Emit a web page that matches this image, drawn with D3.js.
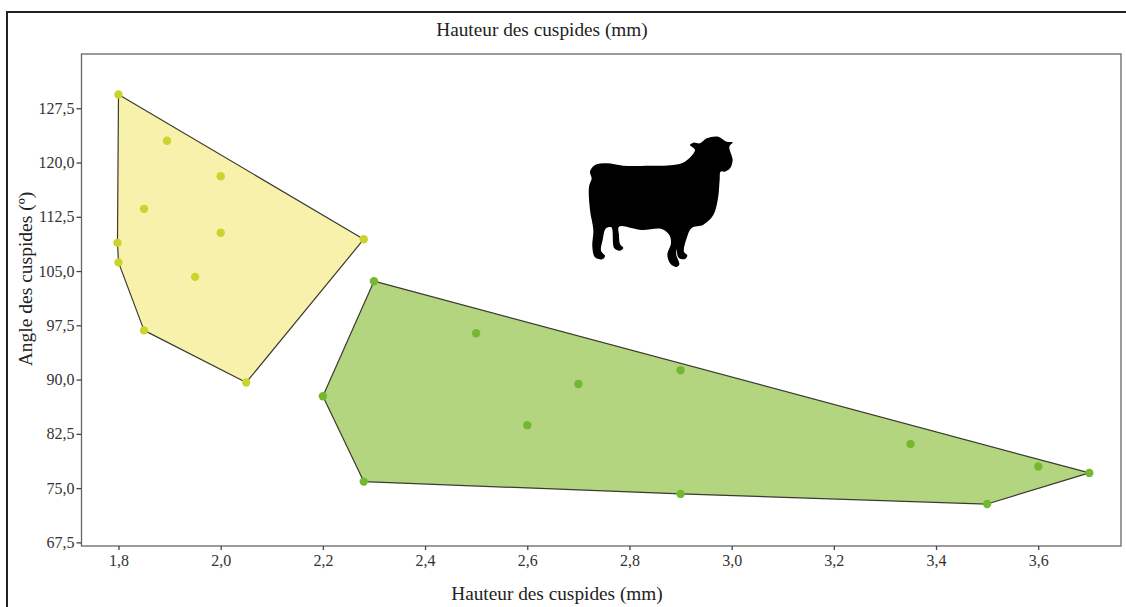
<!DOCTYPE html>
<html><head><meta charset="utf-8">
<script src="https://cdn.jsdelivr.net/npm/d3@7"></script>
<style>html,body{margin:0;padding:0;background:#fff}svg{display:block}</style>
</head><body><svg id="c" width="1126" height="607"></svg>
<script>
const xTicks=[1.8,2.0,2.2,2.4,2.6,2.8,3.0,3.2,3.4,3.6];
const yTicks=[67.5,75,82.5,90,97.5,105,112.5,120,127.5];
const xDomain=[1.7276,3.762];
const yDomain=[67,135];
const yellowX=[1.80,1.895,2.00,1.85,2.00,1.798,1.80,1.95,1.85,2.05,2.28];
const yellowY=[129.4,123.0,118.1,113.6,110.3,108.9,106.2,104.2,96.8,89.6,109.4];
const greenX=[2.30,2.50,2.90,2.70,2.60,2.20,2.28,2.90,3.35,3.60,3.70,3.50];
const greenY=[103.6,96.4,91.3,89.4,83.7,87.7,75.9,74.2,81.1,78.0,77.1,72.8];
const axisTitle="Hauteur des cuspides (mm)";
const yTitle="Angle des cuspides (º)";
const sheep=[[60,155],[75,135],[110,130],[160,137],[240,137],[310,135],[345,125],[375,90],[360,75],[370,68],[390,70],[410,55],[445,50],[470,65],[488,67],[478,80],[488,120],[480,145],[465,155],[452,155],[449,180],[444,235],[430,285],[400,314],[365,324],[350,355],[342,395],[352,406],[345,417],[326,413],[319,388],[319,405],[328,433],[320,441],[302,432],[292,405],[303,370],[298,345],[275,327],[215,330],[147,320],[147,345],[150,372],[160,384],[150,392],[133,385],[124,322],[108,325],[98,360],[93,392],[105,408],[97,418],[75,412],[67,380],[70,330],[60,270],[57,200],[65,175]];

const svg=d3.select("#c");
const font="'Liberation Serif',serif", ink="#333";
const L=81.5,R=1121,T=54,B=546;
const x=d3.scaleLinear().domain(xDomain).range([L,R]);
const y=d3.scaleLinear().domain(yDomain).range([B,T]);

svg.append("rect").attr("x",7).attr("y",12).attr("width",1140).attr("height",620)
  .attr("fill","#fff").attr("stroke","#222").attr("stroke-width",2);
svg.append("rect").attr("x",L).attr("y",T).attr("width",R-L).attr("height",B-T)
  .attr("fill","#fff").attr("stroke","#666").attr("stroke-width",1.3);

function hullOf(xs,ys){return d3.polygonHull(xs.map((d,i)=>[x(d),y(ys[i])]));}
[[yellowX,yellowY,"#f8f1ab","#c9d52c"],[greenX,greenY,"#b3d57f","#74b832"]].forEach(([xs,ys,fill,dot])=>{
  svg.append("path").attr("d","M"+hullOf(xs,ys).join("L")+"Z")
    .attr("fill",fill).attr("stroke","#3a3a2e").attr("stroke-width",1.2).attr("stroke-linejoin","round");
  svg.append("g").selectAll("circle").data(xs.map((d,i)=>[d,ys[i]])).join("circle")
    .attr("cx",d=>x(d[0])).attr("cy",d=>y(d[1])).attr("r",4.2).attr("fill",dot);
});

const gx=svg.append("g").attr("transform",`translate(0,${B})`)
  .call(d3.axisBottom(x).tickValues(xTicks).tickSize(4).tickPadding(5).tickFormat(d=>d3.format(".1f")(d).replace(".",",")));
const gy=svg.append("g").attr("transform",`translate(${L},0)`)
  .call(d3.axisLeft(y).tickValues(yTicks).tickSize(5).tickPadding(2).tickFormat(d=>d3.format(".1f")(d).replace(".",",")));
[gx,gy].forEach(g=>{
  g.select(".domain").remove();
  g.selectAll("line").attr("stroke","#444").attr("stroke-width",1.3);
  g.selectAll("text").attr("font-family",font).attr("font-size",16).attr("fill",ink);
});

const title=(s,px,py,size)=>svg.append("text").text(s).attr("x",px).attr("y",py).attr("text-anchor","middle")
  .attr("font-family",font).attr("font-size",size).attr("fill","#222");
title(axisTitle,542,36,19.3);
title(axisTitle,557,600,19.3);
title(yTitle,0,0,19.5).attr("transform","translate(32,279) rotate(-90)");

svg.append("path").attr("transform","translate(570,120) scale(0.3333)")
  .attr("d",d3.line().curve(d3.curveCatmullRomClosed.alpha(0.5))(sheep)).attr("fill","#000");
</script></body></html>
